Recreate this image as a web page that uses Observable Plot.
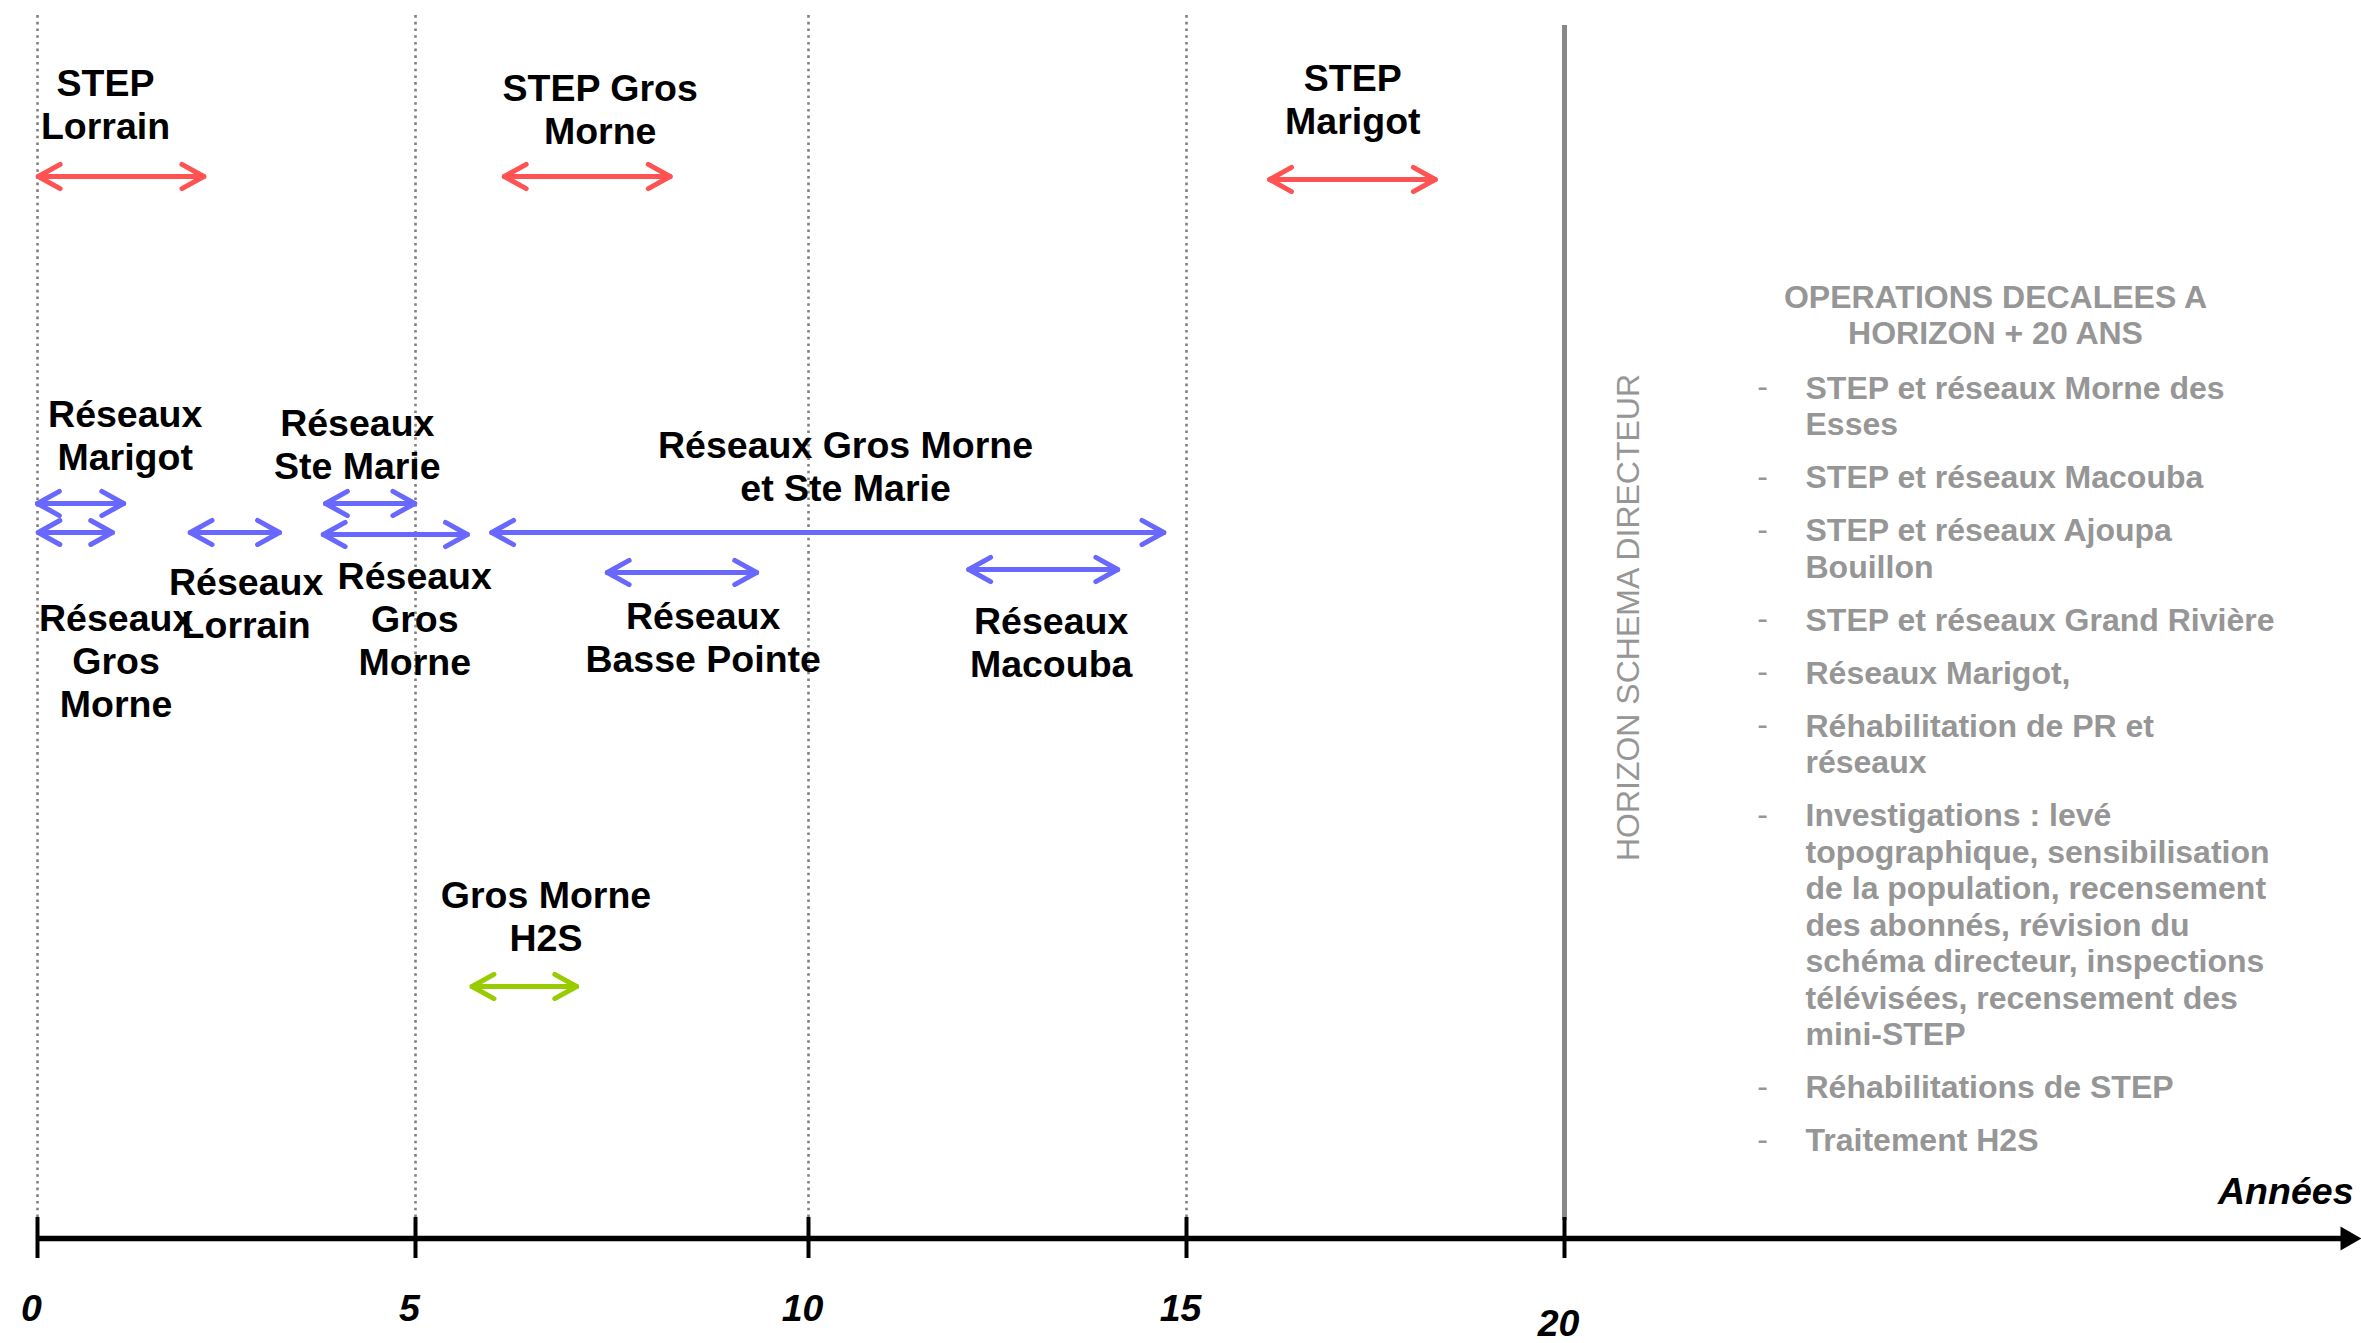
<!DOCTYPE html>
<html><head><meta charset="utf-8">
<script src="https://cdn.jsdelivr.net/npm/d3@7"></script>
<script src="https://cdn.jsdelivr.net/npm/@observablehq/plot@0.6"></script>
<style>html,body{margin:0;padding:0;background:#fff;} #chart svg{display:block}</style>
</head><body><div id="chart"></div>
<script>
// ---- data ----
const operations = ["STEP Lorrain","STEP Gros Morne","STEP Marigot","Réseaux Marigot","Réseaux Gros Morne (1)","Réseaux Lorrain","Réseaux Ste Marie","Réseaux Gros Morne (2)","Réseaux Gros Morne et Ste Marie","Réseaux Basse Pointe","Réseaux Macouba","Gros Morne H2S"];
const types = ["STEP","STEP","STEP","Réseaux","Réseaux","Réseaux","Réseaux","Réseaux","Réseaux","Réseaux","Réseaux","H2S"];
const startYear = [0.01, 6.13, 16.10, 0.0, 0.01, 2.02, 3.81, 3.78, 5.97, 7.44, 12.12, 5.72];
const endYear   = [2.20, 8.24, 18.29, 1.14, 0.99, 3.20, 4.99, 5.66, 14.70, 9.34, 14.09, 7.05];
const arrowLevel = [1062, 1062, 1059, 735, 706, 706, 735, 704, 706, 666, 669, 252];
const labelText = ["STEP\nLorrain","STEP Gros\nMorne","STEP\nMarigot","Réseaux\nMarigot","Réseaux\nGros\nMorne","Réseaux\nLorrain","Réseaux\nSte Marie","Réseaux\nGros\nMorne","Réseaux Gros Morne\net Ste Marie","Réseaux\nBasse Pointe","Réseaux\nMacouba","Gros Morne\nH2S"];
const labelYear  = [0.90, 7.35, 17.20, 1.16, 1.04, 2.76, 4.23, 4.99, 10.49, 8.66, 13.21, 6.66];
const labelLevel = [1135, 1130, 1140, 804, 578, 636, 795, 620, 773, 602, 597, 323];
const tickYears = [0, 5, 10, 15, 20];
const gridYears = [0, 5, 10, 15];
const horizonYear = 20;
const axisLabel = "Années";
const horizonLabel = "HORIZON SCHEMA DIRECTEUR";
const deferredTitle = "OPERATIONS DECALEES A\nHORIZON + 20 ANS";
const deferredOps = [
  "STEP et réseaux Morne des\nEsses",
  "STEP et réseaux Macouba",
  "STEP et réseaux Ajoupa\nBouillon",
  "STEP et réseaux Grand Rivière",
  "Réseaux Marigot,",
  "Réhabilitation de PR et\nréseaux",
  "Investigations : levé\ntopographique, sensibilisation\nde la population, recensement\ndes abonnés, révision du\nschéma directeur, inspections\ntélévisées, recensement des\nmini-STEP",
  "Réhabilitations de STEP",
  "Traitement H2S"
];

// ---- layout (chart units) ----
const AXIS_PX = 1238;                         // vertical position of the time axis
const xRange = [37, 415, 808, 1186, 1564];    // drawn tick positions in the original figure
const yearToPx = d3.scaleLinear().domain(tickYears).range(xRange);
const pxToYear = d3.scaleLinear().domain(xRange).range(tickYears);
const uniform = d3.scaleLinear().domain([37, 1564]).range([0, 20]);
const warp = y => uniform(yearToPx(y));       // slightly uneven spacing of the original ticks
const toLevel = px => AXIS_PX - px;
const toYear = px => pxToYear(px);
const F = "'Liberation Sans', Arial, Helvetica, sans-serif";

// right panel list layout
const panelFont = 32, panelLH = 36.5, panelGap = 16.5;
let cur = 386.5;
const opRows = deferredOps.map(t => {
  const n = t.split("\n").length;
  const center = cur + (n - 1) * panelLH / 2;
  const first = cur;
  cur += n * panelLH + panelGap;
  return {text: t, level: toLevel(center), first: toLevel(first)};
});

const idx = d3.range(operations.length);
const grey = "#969696";

const chart = Plot.plot({
  width: 2361, height: 1343,
  marginTop: 0, marginRight: 0, marginBottom: 0, marginLeft: 0,
  x: {type: "linear", domain: [0, 20], range: [37, 1564], transform: warp, axis: null},
  y: {domain: [0, AXIS_PX], range: [AXIS_PX, 0], axis: null},
  color: {domain: ["STEP", "Réseaux", "H2S"], range: ["#ff5353", "#6868ff", "#99cc00"]},
  style: {background: "white", fontFamily: F},
  marks: [
    // dotted year grid
    Plot.ruleX(gridYears, {y1: 21, y2: 1226, stroke: "#808080", strokeWidth: 2.6, strokeDasharray: "2.6,4.1"}),
    // horizon line
    Plot.ruleX([horizonYear], {y1: 18, y2: 1213, stroke: "#888888", strokeWidth: 5}),
    // time axis
    Plot.ruleY([0], {x1: 0, x2: toYear(2345), stroke: "black", strokeWidth: 5.5}),
    Plot.dot([0], {x: toYear(2347), y: 0, symbol: "triangle", r: 9, rotate: 90, fill: "black", stroke: "none"}),
    Plot.ruleX(tickYears, {y1: -20, y2: 21, stroke: "black", strokeWidth: 4}),
    Plot.text(tickYears, {x: d => d, y: d => d === 20 ? -85 : -70, dx: -6, text: d => String(d),
      fontSize: 37.5, fontWeight: "bold", fontStyle: "italic", fill: "black"}),
    Plot.text([axisLabel], {x: toYear(2353), y: toLevel(1191), text: d => d, textAnchor: "end",
      fontSize: 37.5, fontWeight: "bold", fontStyle: "italic", fill: "black"}),
    // double-headed arrows (two opposite arrows per operation)
    Plot.arrow(idx, {x1: i => startYear[i], x2: i => endYear[i], y1: i => arrowLevel[i], y2: i => arrowLevel[i],
      stroke: i => types[i], strokeWidth: 5, headLength: 7.5, headAngle: 58}),
    Plot.arrow(idx, {x1: i => endYear[i], x2: i => startYear[i], y1: i => arrowLevel[i], y2: i => arrowLevel[i],
      stroke: i => types[i], strokeWidth: 5, headLength: 7.5, headAngle: 58}),
    // labels
    Plot.text(idx, {x: i => labelYear[i], y: i => labelLevel[i], text: i => labelText[i],
      fontSize: 37.5, fontWeight: "bold", lineHeight: 1.15, fill: "black", textAnchor: "middle"}),
    // horizon vertical label
    Plot.text([horizonLabel], {x: toYear(1628), y: toLevel(617), text: d => d, rotate: -90,
      fontSize: 32, fill: grey}),
    // deferred operations panel
    Plot.text([deferredTitle], {x: toYear(1995), y: toLevel(313.5), text: d => d, fontSize: 32,
      fontWeight: "bold", lineHeight: 1.13, fill: grey, textAnchor: "middle"}),
    Plot.text(opRows, {x: toYear(1762), y: "first", text: () => "-", fontSize: 32, fill: grey, textAnchor: "middle"}),
    Plot.text(opRows, {x: toYear(1805), y: "level", text: "text", fontSize: panelFont, fontWeight: "bold",
      lineHeight: panelLH / panelFont, fill: grey, textAnchor: "start"})
  ]
});
document.getElementById("chart").appendChild(chart);
</script>
</body></html>
